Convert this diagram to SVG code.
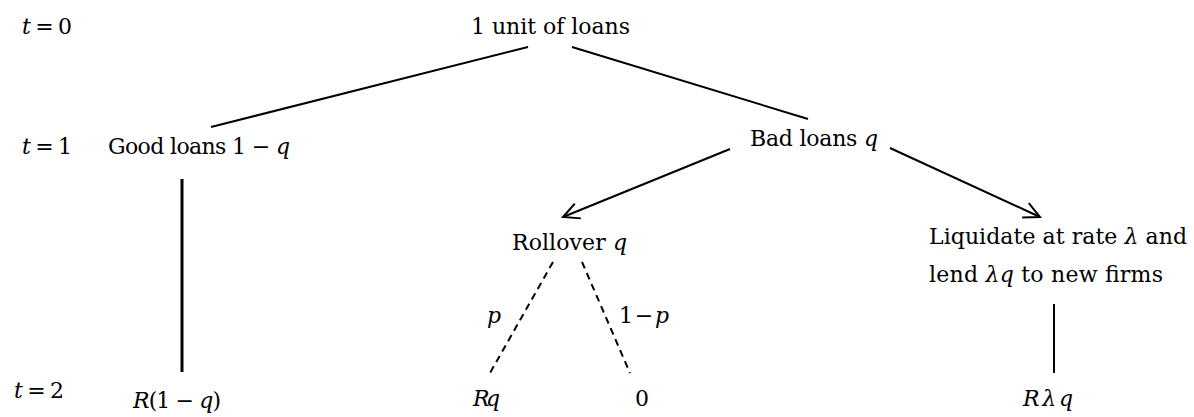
<svg xmlns="http://www.w3.org/2000/svg" width="1194" height="417" viewBox="0 0 1194 417">
<style>
text{font-family:"DejaVu Serif","Liberation Serif",serif;font-size:22px;fill:#000}
.m{font-style:italic}
.ln{stroke:#000;stroke-width:2;fill:none}
.thick{stroke:#000;stroke-width:3;fill:none}
.dash{stroke:#000;stroke-width:2;fill:none;stroke-dasharray:7 5}
</style>
<defs>
<marker id="arr" markerUnits="userSpaceOnUse" markerWidth="24" markerHeight="24" refX="18" refY="10" orient="auto" viewBox="0 0 24 20">
<path d="M2,2 L18,10 L2,18" fill="none" stroke="#000" stroke-width="2"/>
</marker>
</defs>
<rect width="1194" height="417" fill="#fff"/>
<g id="time-labels">
<text x="22" y="34" textLength="50"><tspan class="m">t</tspan> = 0</text>
<text x="22" y="154" textLength="50"><tspan class="m">t</tspan> = 1</text>
<text x="14" y="398" textLength="50"><tspan class="m">t</tspan> = 2</text>
</g>
<g id="root"><text x="471" y="34" textLength="159">1 unit of loans</text></g>
<g id="good"><text x="108" y="154" textLength="182">Good loans 1 − <tspan class="m">q</tspan></text></g>
<g id="bad"><text x="750" y="146" textLength="128">Bad loans <tspan class="m">q</tspan></text></g>
<g id="rollover"><text x="512" y="250" textLength="115">Rollover <tspan class="m">q</tspan></text></g>
<g id="liquidate">
<text x="929" y="244" textLength="258">Liquidate at rate <tspan class="m">λ</tspan> and</text>
<text x="929" y="282" textLength="234">lend <tspan class="m">λq</tspan> to new firms</text>
</g>
<g id="payoff-good"><text x="133" y="408" textLength="88"><tspan class="m">R</tspan>(1 − <tspan class="m">q</tspan>)</text></g>
<g id="payoff-rq"><text x="473" y="406" class="m" textLength="27">Rq</text></g>
<g id="payoff-zero"><text x="635" y="406">0</text></g>
<g id="payoff-liq"><text x="1023" y="406" class="m" textLength="50">Rλq</text></g>
<g id="connectors">
<line class="ln" x1="528" y1="47" x2="211" y2="127"/>
<line class="ln" x1="572" y1="47" x2="808" y2="119"/>
<line class="ln" x1="730" y1="149" x2="563" y2="217" marker-end="url(#arr)"/>
<line class="ln" x1="890" y1="148" x2="1040" y2="217" marker-end="url(#arr)"/>
<line class="thick" x1="182" y1="179" x2="182" y2="372"/>
<line class="dash" x1="553" y1="262" x2="490" y2="373"/>
<line class="dash" x1="582" y1="262" x2="630" y2="373"/>
<line class="ln" x1="1054" y1="304" x2="1054" y2="373"/>
<text x="487" y="323" class="m">p</text>
<text x="619" y="323" textLength="50">1 − <tspan class="m">p</tspan></text>
</g>
</svg>
